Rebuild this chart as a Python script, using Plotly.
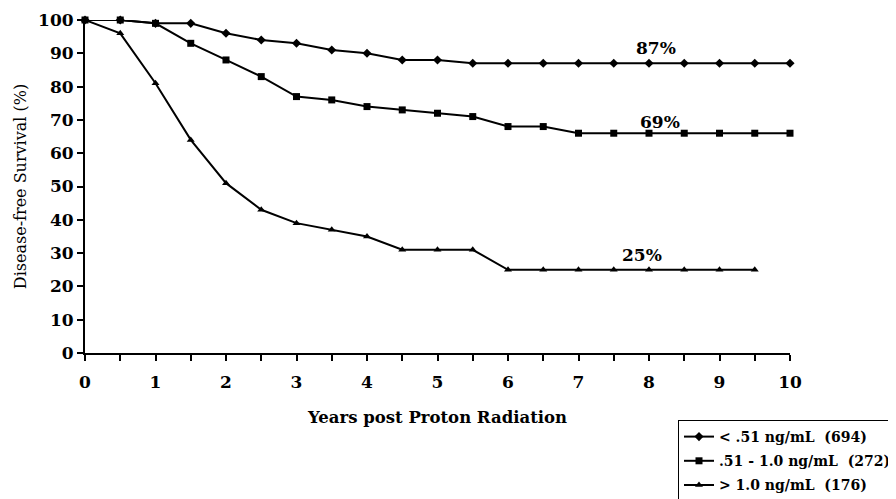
import plotly.graph_objects as go

years = [0, 0.5, 1, 1.5, 2, 2.5, 3, 3.5, 4, 4.5, 5, 5.5, 6, 6.5, 7, 7.5, 8, 8.5, 9, 9.5, 10]
low_psa = [100, 100, 99, 99, 96, 94, 93, 91, 90, 88, 88, 87, 87, 87, 87, 87, 87, 87, 87, 87, 87]
mid_psa = [100, 100, 99, 93, 88, 83, 77, 76, 74, 73, 72, 71, 68, 68, 66, 66, 66, 66, 66, 66, 66]
years_high = [0, 0.5, 1, 1.5, 2, 2.5, 3, 3.5, 4, 4.5, 5, 5.5, 6, 6.5, 7, 7.5, 8, 8.5, 9, 9.5]
high_psa = [100, 96, 81, 64, 51, 43, 39, 37, 35, 31, 31, 31, 25, 25, 25, 25, 25, 25, 25, 25]

series_names = ["< .51 ng/mL  (694)", ".51 - 1.0 ng/mL  (272)", "> 1.0 ng/mL  (176)"]
end_labels = ["87%", "69%", "25%"]
label_x = [8.1, 8.15, 7.9]
label_y = [91.5, 69.5, 29.5]

FONT = "DejaVu Serif"

fig = go.Figure()
fig.add_trace(go.Scatter(x=years, y=low_psa, name="<b>" + series_names[0] + "</b>", mode="lines+markers",
                         legendgroup="a",
                         line=dict(color="black", width=2),
                         marker=dict(symbol="diamond", size=7, color="black"), cliponaxis=False))
fig.add_trace(go.Scatter(x=years, y=mid_psa, name="<b>" + series_names[1] + "</b>", mode="lines+markers",
                         legendgroup="b",
                         line=dict(color="black", width=2),
                         marker=dict(symbol="square", size=7, color="black"), cliponaxis=False))
fig.add_trace(go.Scatter(x=years_high, y=high_psa, name="<b>" + series_names[2] + "</b>", mode="lines+markers",
                         legendgroup="c",
                         line=dict(color="black", width=2),
                         marker=dict(symbol="triangle-up", size=7, color="black"), cliponaxis=False))

for t, xx, yy in zip(end_labels, label_x, label_y):
    fig.add_annotation(x=xx, y=yy, text="<b>" + t + "</b>", showarrow=False,
                       font=dict(family=FONT, size=17, color="black"))

fig.update_layout(
    width=896, height=499,
    margin=dict(l=77, r=114, t=12, b=154, autoexpand=False),
    paper_bgcolor="white", plot_bgcolor="white",
    font=dict(family=FONT, color="black"),
    showlegend=True,
    legend=dict(xref="container", yref="container", x=670/896, y=1-412/499,
                xanchor="left", yanchor="top", bordercolor="black", borderwidth=1,
                bgcolor="white", font=dict(family=FONT, size=14, color="black"),
                traceorder="grouped", tracegroupgap=3, itemwidth=30),
    xaxis=dict(range=[0, 10], tickvals=list(range(11)),
               ticktext=["<b>%d</b>" % i for i in range(11)],
               ticks="outside", ticklen=6, tickwidth=1.5, tickcolor="black",
               minor=dict(dtick=0.5, ticks="outside", ticklen=6, tickwidth=1.5, tickcolor="black"),
               showline=True, linecolor="black", linewidth=2, showgrid=False, zeroline=False,
               tickfont=dict(family=FONT, size=17), ticklabelstandoff=7,
               title=dict(text="<b>Years post Proton Radiation</b>", font=dict(family=FONT, size=16.5), standoff=20)),
    yaxis=dict(range=[0, 100], tickvals=list(range(0, 101, 10)),
               ticktext=["<b>%d</b>" % i for i in range(0, 101, 10)],
               ticks="outside", ticklen=6, tickwidth=1.5, tickcolor="black",
               showline=True, linecolor="black", linewidth=2, showgrid=False, zeroline=False,
               tickfont=dict(family=FONT, size=17),
               title=dict(text="Disease-free Survival (%)", font=dict(family=FONT, size=16), standoff=7)),
)

fig.write_html("out.html")
